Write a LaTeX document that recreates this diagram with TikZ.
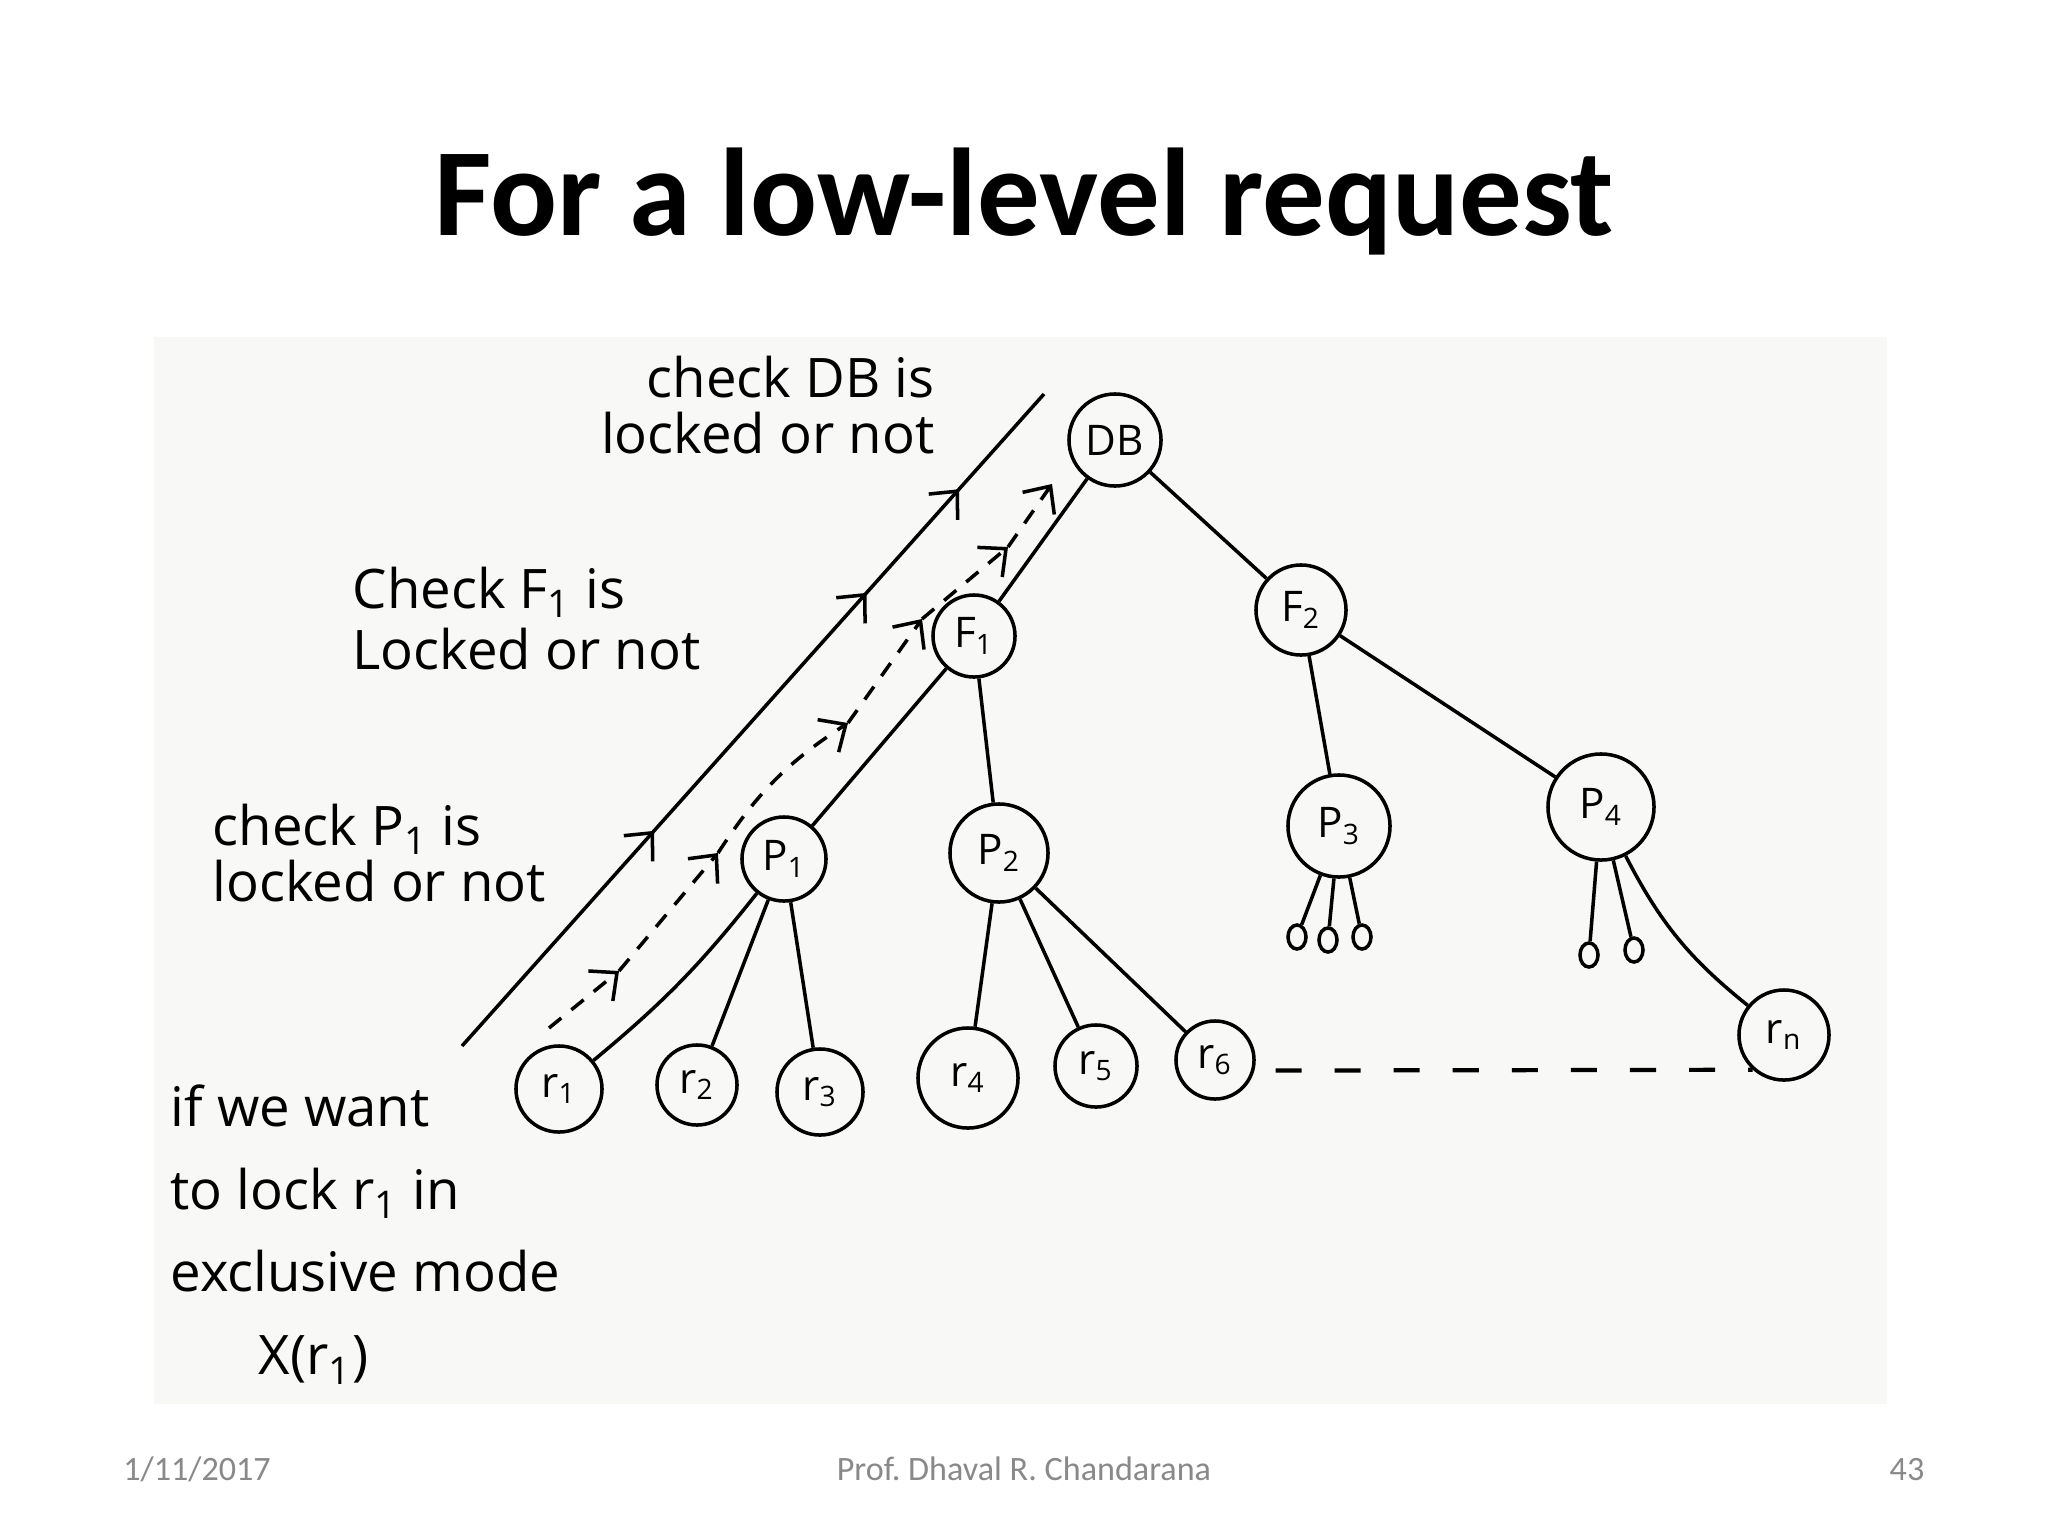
\documentclass[tikz,border=0pt]{standalone}
\usepackage{fontspec}
\setmainfont{Carlito}
\newfontfamily\hand{Open Sans}
\usetikzlibrary{arrows.meta,decorations.markings,shapes.geometric}
\definecolor{photobg}{RGB}{248,248,246}
\definecolor{footgray}{RGB}{137,137,137}

\begin{document}
\begin{tikzpicture}[
    x=0.01cm, y=-0.01cm,
    >={Straight Barb[length=6pt, width=11pt]},
    every node/.style={font=\hand},
    treenode/.style={circle, draw=black, line width=1pt, inner sep=0pt, font=\hand\fontsize{12}{14}\selectfont},
    leaf/.style={ellipse, draw=black, line width=1pt, minimum width=0.18cm, minimum height=0.24cm, inner sep=0pt},
    edge/.style={line width=1pt},
    note/.style={inner sep=0pt, align=left},
    checkline/.style={line width=1pt, postaction={decorate}, decoration={markings,
        mark=at position 0.33 with {\arrow{>}},
        mark=at position 0.695 with {\arrow{>}},
        mark=at position 0.854 with {\arrow{>}}}},
    climb/.style={line width=1pt, dash pattern=on 4.5pt off 3.7pt, ->},
    gap/.style={line width=1.2pt, dash pattern=on 7.4pt off 9.4pt},
    footer/.style={font=\fontsize{9.7}{11}\selectfont, text=footgray, inner sep=0pt}
]

% Page and photo area
\useasboundingbox (0,0) rectangle (2048,1536);
\fill[white] (0,0) rectangle (2048,1536);
\fill[photobg] (154,337) rectangle (1887,1404);

% Title
\node[font=\bfseries\fontsize{35.5}{40}\selectfont, anchor=base] (title) at (1024,235) {For a low-level request};

% Tree
\node[treenode, minimum size=0.92cm] (db) at (1115,440) {DB};
\node[treenode, minimum size=0.82cm] (f1) at (974,636) {F\textsubscript{1}};
\node[treenode, minimum size=0.9cm] (f2) at (1301,610) {F\textsubscript{2}};
\node[treenode, minimum size=0.84cm] (p1) at (784,859) {P\textsubscript{1}};
\node[treenode, minimum size=0.98cm] (p2) at (999,853) {P\textsubscript{2}};
\node[treenode, minimum size=1.02cm] (p3) at (1339,826) {P\textsubscript{3}};
\node[treenode, minimum size=1.06cm] (p4) at (1601,807) {P\textsubscript{4}};
\node[treenode, minimum size=0.86cm] (r1) at (559,1089) {r\textsubscript{1}};
\node[treenode, minimum size=0.8cm] (r2) at (697,1085) {r\textsubscript{2}};
\node[treenode, minimum size=0.86cm] (r3) at (820,1092) {r\textsubscript{3}};
\node[treenode, minimum size=1.0cm] (r4) at (968,1078) {r\textsubscript{4}};
\node[treenode, minimum size=0.82cm] (r5) at (1096,1066) {r\textsubscript{5}};
\node[treenode, minimum size=0.78cm] (r6) at (1215,1060) {r\textsubscript{6}};
\node[treenode, minimum size=0.9cm] (rn) at (1784,1035) {r\textsubscript{n}};

% Small leaves under P3 and P4
\node[leaf] (p3a) at (1297,937) {};
\node[leaf] (p3b) at (1328,940) {};
\node[leaf] (p3c) at (1362,937) {};
\node[leaf] (p4a) at (1589,955) {};
\node[leaf] (p4b) at (1634,950) {};

\draw[edge] (db) -- (f1);
\draw[edge] (db) -- (f2);
\draw[edge] (f1) -- (p1);
\draw[edge] (f1) -- (p2);
\draw[edge] (f2) -- (p3);
\draw[edge] (f2) -- (p4);
\draw[edge] (p1) to[bend left=6] (r1);
\draw[edge] (p1) -- (r2);
\draw[edge] (p1) -- (r3);
\draw[edge] (p2) -- (r4);
\draw[edge] (p2) -- (r5);
\draw[edge] (p2) -- (r6);
\draw[edge] (p3) -- (p3a);
\draw[edge] (p3) -- (p3b);
\draw[edge] (p3) -- (p3c);
\draw[edge] (p4) -- (p4a);
\draw[edge] (p4) -- (p4b);
\draw[edge] (p4) to[bend right=12] (rn);
\draw[gap, shorten <=6pt] (r6.-15) -- (rn.228);

% Long check line
\coordinate (lineS) at (462,1046);
\coordinate (lineE) at (1044,394);
\draw[checkline] (lineS) -- (lineE);

% Dashed climb from r1 up to DB
\coordinate (c0) at (549,1028);
\coordinate (c1) at (619,971);
\coordinate (c2) at (718,853);
\coordinate (c3) at (848,723);
\coordinate (c4) at (922,619);
\coordinate (c5) at (1008,547);
\coordinate (c6) at (1052,484);
\draw[climb] (c0) -- (c1);
\draw[climb] (c1) -- (c2);
\draw[climb] (c2) to[bend left=12] (c3);
\draw[climb] (c3) -- (c4);
\draw[climb] (c4) -- (c5);
\draw[climb] (c5) -- (c6);

% Notes
\node[note, anchor=north east, align=right, font=\hand\fontsize{15.5}{16}\selectfont] (askdb) at (935,355) {check DB is\\locked or not};
\node[note, anchor=north west, font=\hand\fontsize{15.5}{17.4}\selectfont] (askf1) at (352,566) {Check F\textsubscript{1} is\\Locked or not};
\node[note, anchor=north west, font=\hand\fontsize{15.5}{16}\selectfont] (askp1) at (212,803) {check P\textsubscript{1} is\\locked or not};
\node[note, anchor=north west, font=\hand\fontsize{15.5}{23.5}\selectfont] (want) at (170,1084) {if we want\\to lock r\textsubscript{1} in\\exclusive mode\\\hspace*{25pt}X(r\textsubscript{1})};

% Footer
\node[footer, anchor=base] (date) at (197,1480) {1/11/2017};
\node[footer, anchor=base] (author) at (1024,1480) {Prof.\ Dhaval R.\ Chandarana};
\node[footer, anchor=base] (pageno) at (1907,1480) {43};

\end{tikzpicture}
\end{document}
